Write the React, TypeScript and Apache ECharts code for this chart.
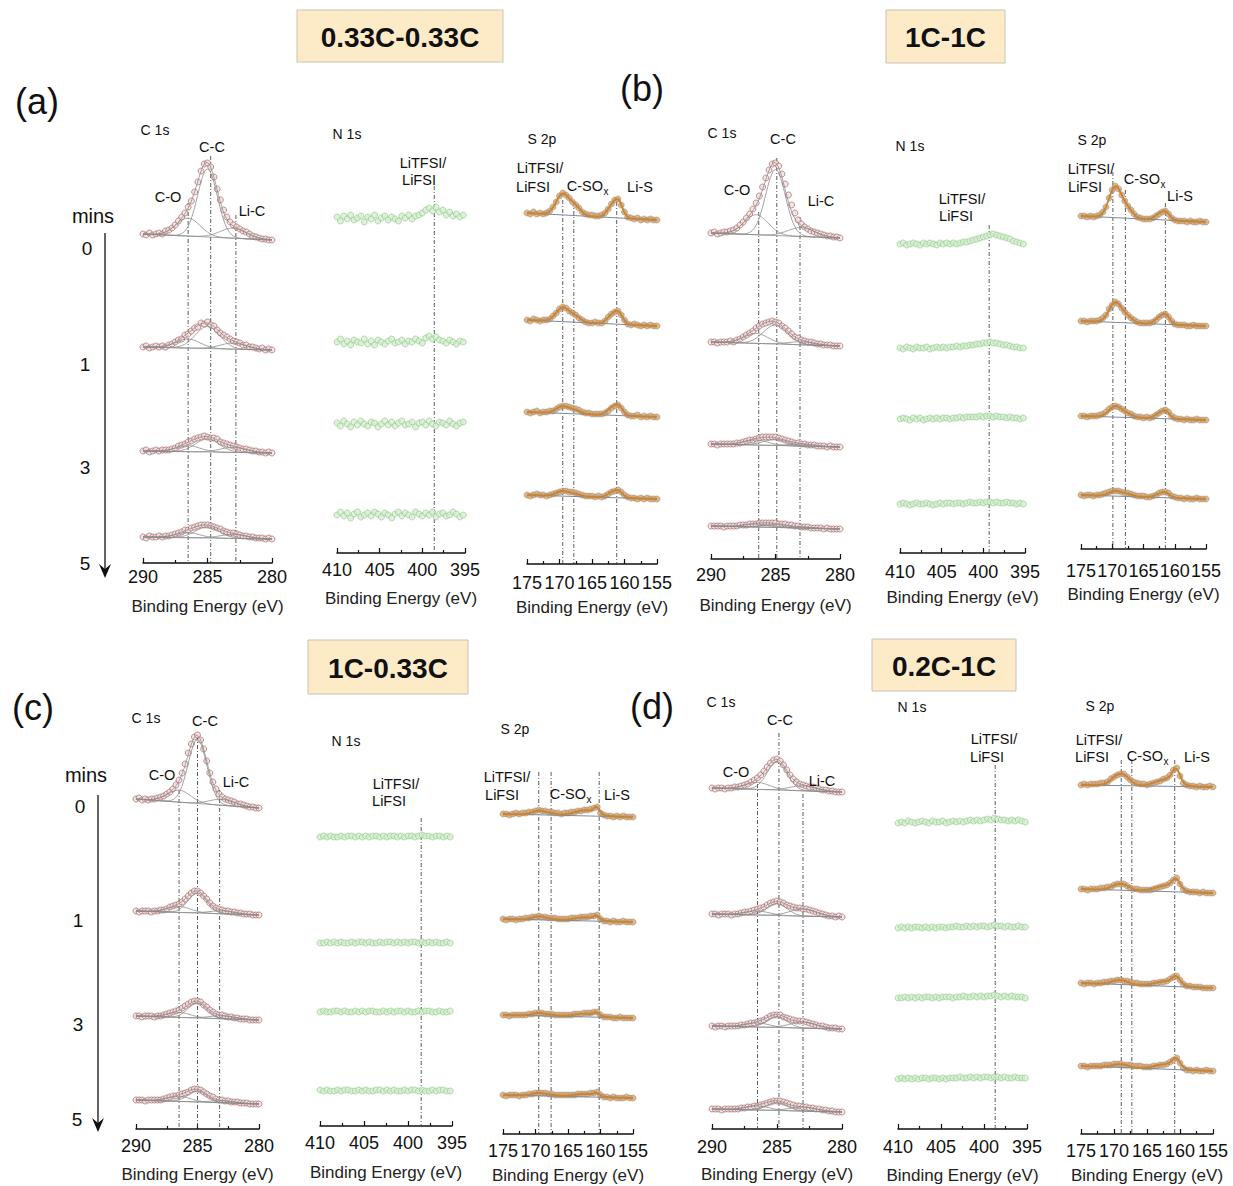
import React, { useEffect, useRef } from 'react';
import * as echarts from 'echarts';

const FONT = '"Liberation Sans", Arial, Helvetica, sans-serif';

// ---------- energy sampling of the three core levels (eV) ----------
const C1S_START = 290; const C1S_STEP = 0.25; const C1S_MIN = 280; const C1S_MAX = 290;
const N1S_START = 410; const N1S_STEP = 0.4; const N1S_MIN = 395; const N1S_MAX = 410;
const S2P_START = 175; const S2P_STEP = 0.5; const S2P_MIN = 155; const S2P_MAX = 175;

// ---------- C 1s spectra (rows: 0, 1, 3, 5 min), intensity a.u. ----------
const C1S_A = [
  [6,5,7,5,6,7,6,9,10,12,15,19,23,27,33,39,48,58,69,76,77,73,63,51,40,30,23,18,15,13,11,9,8,6,4,3,2,1,1,0,0],
  [3,4,2,3,4,3,4,3,5,6,8,10,11,15,16,19,22,23,27,26,28,25,24,20,17,15,13,11,9,8,7,5,5,3,3,2,1,2,0,1,0],
  [2,3,1,2,3,2,3,3,3,4,5,7,8,9,11,12,14,15,16,17,16,15,15,14,11,10,9,8,7,6,5,4,4,3,2,2,1,1,0,1,0],
  [2,1,3,2,2,3,2,3,3,4,5,6,7,9,9,11,12,13,14,14,14,13,12,11,10,8,7,6,6,5,4,3,3,2,2,1,1,1,0,1,0],
];
const C1S_B = [
  [5,6,4,5,6,6,7,8,10,13,16,20,24,29,35,42,51,60,68,74,75,72,64,54,43,33,25,18,14,11,9,7,6,5,4,3,2,2,1,1,0],
  [4,4,3,4,4,4,5,4,6,7,9,11,13,15,18,20,22,23,24,25,24,23,20,18,15,12,9,8,6,5,4,4,3,2,2,1,1,1,0,0,0],
  [3,3,2,3,3,3,3,3,4,4,5,6,7,7,8,9,10,10,10,10,10,9,8,7,6,5,4,4,3,3,2,2,2,1,1,1,0,1,0,0,0],
  [3,3,3,3,2,3,3,3,3,4,4,4,5,5,5,6,6,6,6,6,6,5,5,5,4,4,3,3,2,2,2,1,1,1,1,0,1,0,0,0,0],
];
const C1S_C = [
  [9,10,8,9,8,9,9,10,11,12,14,16,19,23,28,35,44,55,64,71,73,68,59,47,35,26,19,14,11,9,8,7,6,4,4,3,2,1,1,0,0],
  [4,3,4,4,4,3,4,4,5,5,6,8,9,10,11,13,16,19,22,24,24,22,19,16,12,9,7,6,5,4,4,3,3,2,2,1,1,1,0,0,0],
  [4,4,3,4,4,4,3,4,4,5,6,7,8,9,10,12,14,16,18,19,19,18,15,13,10,8,6,5,5,4,3,3,2,2,1,1,1,0,0,0,0],
  [4,4,4,3,4,4,4,4,4,5,6,7,8,8,9,10,11,12,14,15,15,14,12,10,8,7,5,4,4,3,3,2,2,2,1,1,1,0,0,0,0],
];
const C1S_D = [
  [4,3,4,4,3,4,4,5,5,6,7,8,10,12,14,17,21,25,29,32,33,31,27,22,17,13,10,8,7,6,5,5,4,3,2,2,1,1,0,0,0],
  [3,3,2,3,3,3,2,3,3,4,5,5,6,7,8,9,10,12,14,15,16,15,14,12,11,10,9,9,8,8,7,6,5,4,3,2,1,1,0,1,0],
  [3,2,3,3,2,3,3,3,3,4,4,5,6,6,7,8,9,11,13,14,14,14,12,11,10,9,8,8,8,7,6,5,4,3,3,2,1,1,1,0,0],
  [3,3,3,2,3,3,3,3,3,4,4,5,5,6,6,7,8,9,10,11,11,11,10,9,8,7,6,6,5,5,4,4,3,3,2,2,1,1,0,0,0],
];
// fitted components [centre eV, height, FWHM eV]: C-O, C-C, Li-C
const C1S_A_PEAKS = [
  [[286.5,18,2.2],[285.0,68,1.8],[283.0,10,2.4]],
  [[286.5,9,2.2],[285.0,22,2.2],[283.0,6,2.4]],
  [[286.5,6,2.2],[285.0,13,2.2],[283.0,5,2.4]],
  [[286.5,5,2.2],[285.0,11,2.2],[283.0,4,2.4]],
];
const C1S_B_PEAKS = [
  [[286.5,20,2.2],[285.0,66,1.8],[283.0,9,2.4]],
  [[286.5,10,2.2],[285.0,19,2.2],[283.0,3,2.4]],
  [[286.5,5,2.2],[285.0,6,2.2],[283.0,2,2.4]],
  [[286.5,3,2.2],[285.0,3,2.2],[283.0,1,2.4]],
];
const C1S_C_PEAKS = [
  [[286.5,12,2.2],[285.0,64,1.8],[283.0,6,2.4]],
  [[286.5,6,2.2],[285.0,20,1.8],[283.0,3,2.4]],
  [[286.5,5,2.2],[285.0,15,1.8],[283.0,3,2.4]],
  [[286.5,5,2.2],[285.0,11,1.8],[283.0,2,2.4]],
];
const C1S_D_PEAKS = [
  [[286.5,7,2.2],[285.0,28,1.8],[283.0,5,2.4]],
  [[286.5,4,2.2],[285.0,12,1.8],[283.0,7,2.4]],
  [[286.5,4,2.2],[285.0,11,1.8],[283.0,6,2.4]],
  [[286.5,4,2.2],[285.0,8,1.8],[283.0,4,2.4]],
];
// linear background [high-BE end, low-BE end]
const C1S_A_BASE = [[6,0],[3,0],[2,0],[2,0]];
const C1S_B_BASE = [[5,0],[4,0],[3,0],[3,0]];
const C1S_C_BASE = [[9,0],[4,0],[4,0],[4,0]];
const C1S_D_BASE = [[4,0],[3,0],[3,0],[3,0]];
const C1S_A_MARKS = [286.5, 284.75, 282.8];
const C1S_B_MARKS = [286.3, 284.9, 283.1];
const C1S_C_MARKS = [286.5, 285.0, 283.2];
const C1S_D_MARKS = [286.5, 284.85, 283.0];

// ---------- N 1s spectra ----------
const N1S_A = [
  [2,-2,3,0,4,-1,1,3,-3,2,0,4,-2,1,3,-1,2,0,-2,3,1,4,0,3,4,6,9,11,8,12,7,9,4,7,3,5,2,4],
  [0,3,-2,1,-3,2,0,-1,3,-2,1,-3,2,0,-2,1,3,-1,0,2,-2,1,0,3,1,-1,4,6,3,5,2,1,-1,2,0,-2,1,0],
  [1,-2,3,0,-3,2,-1,3,0,-2,2,1,-3,0,3,-1,2,-2,1,3,-1,0,2,-3,1,2,-1,3,0,-2,2,1,-1,3,0,-2,1,2],
  [0,3,-1,2,-3,1,3,-2,0,2,-1,3,1,-2,2,0,-3,1,3,-1,2,0,-2,3,1,-1,2,0,3,-2,1,2,-1,0,3,1,-2,0],
];
const N1S_B = [
  [0,1,-1,0,1,0,-1,1,0,1,0,-1,1,0,1,0,1,0,1,2,2,3,4,5,6,7,8,9,10,9,8,7,6,5,3,2,1,0],
  [0,-1,1,0,-1,1,0,0,1,-1,0,1,0,1,0,1,1,2,1,2,2,3,3,4,4,5,5,6,5,5,4,3,3,2,1,1,0,0],
  [0,1,0,-1,1,0,1,-1,0,1,0,1,0,1,1,0,1,1,2,1,2,2,2,2,3,2,3,3,2,3,2,2,1,2,1,1,0,1],
  [0,1,0,-1,0,1,0,0,1,0,-1,0,1,0,1,1,0,1,1,0,1,2,1,1,2,1,2,2,1,2,1,1,2,1,1,0,1,0],
];
const N1S_C = [
  [0,1,0,1,0,0,1,0,1,1,0,1,0,1,0,1,1,0,1,0,1,1,0,1,0,1,1,0,1,2,1,1,0,1,1,0,1,0],
  [0,0,1,0,1,0,1,0,0,1,0,1,1,0,1,0,0,1,0,1,1,0,1,0,1,0,1,1,0,1,0,1,0,1,0,0,1,0],
  [0,1,0,0,1,1,0,1,0,0,1,0,1,0,1,1,0,0,1,0,1,0,1,1,0,1,0,0,1,0,1,1,0,0,1,0,0,1],
  [1,0,1,0,0,1,0,1,1,0,0,1,0,1,0,0,1,1,0,1,0,1,0,0,1,0,1,1,0,1,0,0,1,0,1,1,0,0],
];
const N1S_D = [
  [0,1,0,2,1,0,1,2,1,0,2,1,1,2,0,1,2,1,2,1,2,3,2,3,2,3,4,3,5,4,3,3,2,3,2,3,2,1],
  [0,1,0,1,0,1,1,0,1,0,1,0,1,1,0,1,1,2,1,1,2,1,2,1,2,2,1,2,3,2,2,1,2,1,1,2,1,1],
  [0,0,1,0,1,0,1,0,1,1,0,1,0,1,1,1,0,1,1,2,1,1,2,1,2,1,2,2,3,2,1,2,1,2,1,1,1,0],
  [0,1,0,1,0,1,0,1,1,0,1,1,0,1,0,1,1,1,2,1,1,2,1,2,1,2,2,1,2,2,1,2,1,1,2,1,1,1],
];
const N1S_A_MARKS = [398.6];
const N1S_B_MARKS = [399.3];
const N1S_C_MARKS = [398.5];
const N1S_D_MARKS = [398.7];

// ---------- S 2p spectra ----------
const S2P_A = [
  [7,6,8,6,7,6,7,9,13,18,24,27,25,22,18,15,12,8,6,5,5,4,4,5,7,11,16,20,21,15,8,3,2,1,2,0,1,0,1,0,0],
  [6,5,7,6,5,6,6,7,10,13,17,19,18,15,13,11,8,6,4,3,3,4,3,3,5,9,12,14,15,11,6,2,1,2,1,0,1,0,1,0,0],
  [5,4,5,6,4,5,5,6,6,8,10,11,11,10,9,8,7,5,4,4,3,3,3,3,4,6,9,11,12,9,5,2,1,1,2,0,1,0,1,0,0],
  [4,3,4,5,4,4,3,4,5,6,7,8,8,7,7,6,5,4,3,3,3,2,3,2,3,5,7,8,9,7,4,2,1,1,0,1,0,1,0,0,0],
];
const S2P_B = [
  [6,6,5,6,5,6,7,10,15,24,32,36,33,27,21,16,12,8,5,4,3,3,3,4,6,8,10,11,8,4,2,1,1,1,0,1,0,0,1,0,0],
  [5,5,4,5,5,5,6,8,11,17,21,24,22,18,14,11,8,6,4,3,3,3,3,4,6,9,11,12,9,5,2,1,1,1,0,0,1,0,0,0,0],
  [4,4,3,4,4,4,5,6,8,11,13,14,13,11,9,7,6,4,3,3,2,3,2,3,5,7,9,10,8,4,2,1,1,0,1,0,0,1,0,0,0],
  [4,3,4,4,3,4,4,5,6,7,8,8,8,7,6,6,5,4,3,3,3,2,2,3,4,6,7,7,6,3,2,1,1,0,1,0,0,1,0,0,0],
];
const S2P_C = [
  [3,3,2,3,4,3,4,4,5,5,6,7,6,6,5,5,4,4,3,4,4,5,5,6,6,7,7,8,9,10,4,2,1,1,0,1,0,1,0,0,0],
  [3,2,3,3,2,3,3,4,4,5,5,6,5,5,4,4,4,3,3,3,3,4,4,4,5,5,5,6,6,7,3,1,1,0,1,0,0,1,0,0,0],
  [3,3,2,3,3,3,3,3,4,4,5,5,5,4,4,4,3,3,3,3,3,3,4,4,4,5,5,5,6,6,3,1,1,1,0,0,1,0,0,0,0],
  [3,2,3,3,3,2,3,3,4,4,5,5,5,5,4,4,3,3,3,3,3,3,3,4,4,4,4,5,5,6,3,1,1,0,1,0,0,0,1,0,0],
];
const S2P_D = [
  [2,3,2,3,3,3,4,4,5,8,10,12,13,13,10,7,5,4,3,3,2,3,4,5,6,8,9,12,17,19,11,4,2,1,1,0,1,0,0,1,0],
  [4,4,3,4,4,4,5,5,6,6,8,9,9,9,7,5,4,4,3,3,3,3,4,5,6,7,8,10,13,15,9,4,2,1,1,1,0,1,0,0,0],
  [5,4,5,5,4,5,5,6,6,7,7,8,8,7,7,6,5,5,4,4,4,4,5,5,6,6,7,9,11,12,8,4,2,2,1,1,1,0,0,0,0],
  [5,5,4,5,5,5,5,6,6,6,7,7,7,6,6,6,5,5,5,4,4,4,5,5,6,6,7,9,11,13,8,3,1,1,0,1,0,0,1,0,0],
];
const S2P_A_PEAKS = [
  [[169.5,21,2.4],[167.5,8,2.0],[162.2,8,1.6],[161.0,17,1.6]],
  [[169.5,14,2.4],[167.5,5,2.0],[162.2,6,1.6],[161.0,12,1.6]],
  [[169.5,7,2.4],[167.5,3,2.0],[162.2,5,1.6],[161.0,10,1.6]],
  [[169.5,5,2.4],[167.5,2,2.0],[162.2,3.5,1.6],[161.0,7,1.6]],
];
const S2P_B_PEAKS = [
  [[169.5,31,2.4],[167.5,8,2.0],[162.7,4,1.6],[161.5,8,1.6]],
  [[169.5,20,2.4],[167.5,5,2.0],[162.7,4.5,1.6],[161.5,9.5,1.6]],
  [[169.5,11,2.4],[167.5,3,2.0],[162.7,3.5,1.6],[161.5,7.5,1.6]],
  [[169.5,5,2.4],[167.5,2,2.0],[162.7,2.5,1.6],[161.5,5,1.6]],
];
const S2P_C_PEAKS = [
  [[169.5,4,2.4],[167.5,1.5,2.0],[162.3,5.5,4.0],[160.6,6,1.0]],
  [[169.5,3.5,2.4],[167.5,1,2.0],[162.3,3.5,4.0],[160.6,3.5,1.0]],
  [[169.5,2.8,2.4],[167.5,1,2.0],[162.3,3.2,4.0],[160.6,3,1.0]],
  [[169.5,2.8,2.4],[167.5,1,2.0],[162.3,3,4.0],[160.6,2.5,1.0]],
];
const S2P_D_PEAKS = [
  [[169.5,9,2.4],[168.2,6,2.0],[162.0,7,4.0],[160.6,13,1.4]],
  [[169.5,5,2.4],[168.2,3,2.0],[162.0,6,4.0],[160.6,9,1.4]],
  [[169.5,3.5,2.4],[168.2,2,2.0],[162.0,5,4.0],[160.6,7,1.4]],
  [[169.5,2.5,2.4],[168.2,1.5,2.0],[162.0,5,4.0],[160.6,8,1.4]],
];
const S2P_A_BASE = [[7,0],[6,0],[5,0],[4,0]];
const S2P_B_BASE = [[6,0],[5,0],[4,0],[4,0]];
const S2P_C_BASE = [[3,0],[3,0],[3,0],[3,0]];
const S2P_D_BASE = [[2,0],[4,0],[5,0],[5,0]];
const S2P_A_MARKS = [169.5, 167.8, 161.2];
const S2P_B_MARKS = [169.9, 167.9, 161.5];
const S2P_C_MARKS = [169.5, 167.6, 160.2];
const S2P_D_MARKS = [168.9, 167.3, 160.8];

// ---------- styles per core level ----------
const KIND: any = {
  C: { start: C1S_START, step: C1S_STEP, min: C1S_MIN, max: C1S_MAX, size: 6,
    item: { color: '#f1dede', borderColor: '#9c5656', borderWidth: 0.8 },
    fit: { color: '#8c8c8c', width: 0.8 }, base: { color: '#8c8c8c', width: 0.8 } },
  N: { start: N1S_START, step: N1S_STEP, min: N1S_MIN, max: N1S_MAX, size: 6,
    item: { color: '#d6efcf', borderColor: '#8dc389', borderWidth: 0.8 } },
  S: { start: S2P_START, step: S2P_STEP, min: S2P_MIN, max: S2P_MAX, size: 6,
    item: { color: '#dda463', borderColor: '#94877c', borderWidth: 0.7 },
    fit: { color: '#c4863f', width: 2 }, base: { color: '#7d8a98', width: 1 } },
};

// ---------- layout (pixels) ----------
const LAY: any = {
  aC: { x0: 143, x1: 272, axisY: 563, labelY: 577, nameY: 606, top: 110, rows: [240, 350, 453, 539], markTops: [203, 156, 215] },
  aN: { x0: 337, x1: 465, axisY: 553, labelY: 570, nameY: 598, top: 110, rows: [219, 342, 424, 515], markTops: [186] },
  aS: { x0: 527, x1: 657, axisY: 564, labelY: 583, nameY: 607, top: 110, rows: [220, 326, 417, 499], markTops: [200, 202, 202] },
  bC: { x0: 711, x1: 840, axisY: 559, labelY: 575, nameY: 605, top: 110, rows: [238, 346, 447, 529], markTops: [212, 158, 217] },
  bN: { x0: 900, x1: 1025, axisY: 553, labelY: 572, nameY: 597, top: 110, rows: [244, 348, 419, 504], markTops: [225] },
  bS: { x0: 1081, x1: 1206, axisY: 549, labelY: 571, nameY: 594, top: 110, rows: [222, 326, 420, 499], markTops: [172, 190, 203] },
  cC: { x0: 136, x1: 259, axisY: 1129, labelY: 1146, nameY: 1174, top: 690, rows: [808, 915, 1020, 1104], markTops: [790, 736, 790] },
  cN: { x0: 320, x1: 452, axisY: 1126, labelY: 1143, nameY: 1172, top: 690, rows: [837, 943, 1012, 1091], markTops: [818] },
  cS: { x0: 503, x1: 633, axisY: 1134, labelY: 1151, nameY: 1175, top: 690, rows: [817, 922, 1018, 1098], markTops: [772, 772, 772] },
  dC: { x0: 712, x1: 842, axisY: 1129, labelY: 1147, nameY: 1174, top: 690, rows: [792, 917, 1029, 1112], markTops: [784, 733, 794] },
  dN: { x0: 898, x1: 1027, axisY: 1129, labelY: 1147, nameY: 1175, top: 690, rows: [823, 928, 998, 1079], markTops: [765] },
  dS: { x0: 1081, x1: 1213, axisY: 1134, labelY: 1151, nameY: 1175, top: 690, rows: [787, 893, 988, 1071], markTops: [760, 760, 760] },
};

const SUBPLOTS = [
  { kind: 'C', data: C1S_A, peaks: C1S_A_PEAKS, base: C1S_A_BASE, marks: C1S_A_MARKS, lay: LAY.aC },
  { kind: 'N', data: N1S_A, marks: N1S_A_MARKS, lay: LAY.aN },
  { kind: 'S', data: S2P_A, peaks: S2P_A_PEAKS, base: S2P_A_BASE, marks: S2P_A_MARKS, lay: LAY.aS },
  { kind: 'C', data: C1S_B, peaks: C1S_B_PEAKS, base: C1S_B_BASE, marks: C1S_B_MARKS, lay: LAY.bC },
  { kind: 'N', data: N1S_B, marks: N1S_B_MARKS, lay: LAY.bN },
  { kind: 'S', data: S2P_B, peaks: S2P_B_PEAKS, base: S2P_B_BASE, marks: S2P_B_MARKS, lay: LAY.bS },
  { kind: 'C', data: C1S_C, peaks: C1S_C_PEAKS, base: C1S_C_BASE, marks: C1S_C_MARKS, lay: LAY.cC },
  { kind: 'N', data: N1S_C, marks: N1S_C_MARKS, lay: LAY.cN },
  { kind: 'S', data: S2P_C, peaks: S2P_C_PEAKS, base: S2P_C_BASE, marks: S2P_C_MARKS, lay: LAY.cS },
  { kind: 'C', data: C1S_D, peaks: C1S_D_PEAKS, base: C1S_D_BASE, marks: C1S_D_MARKS, lay: LAY.dC },
  { kind: 'N', data: N1S_D, marks: N1S_D_MARKS, lay: LAY.dN },
  { kind: 'S', data: S2P_D, peaks: S2P_D_PEAKS, base: S2P_D_BASE, marks: S2P_D_MARKS, lay: LAY.dS },
];

// ---------- texts ----------
const TAGS = [['(a)', 37, 101], ['(b)', 642, 88], ['(c)', 33, 707], ['(d)', 652, 706]];
const BOXES = [
  ['0.33C-0.33C', 297, 10, 206, 52],
  ['1C-1C', 886, 10, 119, 53],
  ['1C-0.33C', 308, 640, 160, 54],
  ['0.2C-1C', 872, 639, 144, 52],
];
const TIME_LABELS = ['0', '1', '3', '5'];
const TIME_AXES = [
  { x: 105, y0: 233, y1: 578, minsX: 93, minsY: 216, numX: [87, 85, 85, 85], numY: [248, 364, 467, 563] },
  { x: 98, y0: 795, y1: 1132, minsX: 86, minsY: 775, numX: [80, 78, 78, 77], numY: [806, 920, 1024, 1119] },
];
const LEVEL_TITLES = [
  ['C 1s', 155, 130], ['N 1s', 347, 134], ['S 2p', 542, 139],
  ['C 1s', 722, 133], ['N 1s', 910, 146], ['S 2p', 1092, 140],
  ['C 1s', 146, 718], ['N 1s', 346, 741], ['S 2p', 515, 729],
  ['C 1s', 721, 702], ['N 1s', 912, 707], ['S 2p', 1100, 706],
];
const PEAK_LABELS = [
  ['C-C', 212, 147], ['C-O', 168, 197], ['Li-C', 252, 211],
  ['LiTFSI/', 423, 163], ['LiFSI', 419, 180],
  ['LiTFSI/', 540, 168], ['LiFSI', 533, 187], ['Li-S', 640, 187],
  ['C-C', 783, 139], ['C-O', 737, 190], ['Li-C', 821, 201],
  ['LiTFSI/', 962, 199], ['LiFSI', 956, 216],
  ['LiTFSI/', 1091, 169], ['LiFSI', 1085, 187], ['Li-S', 1180, 196],
  ['C-C', 205, 721], ['C-O', 162, 775], ['Li-C', 236, 782],
  ['LiTFSI/', 396, 784], ['LiFSI', 389, 801],
  ['LiTFSI/', 507, 777], ['LiFSI', 502, 795], ['Li-S', 617, 795],
  ['C-C', 780, 720], ['C-O', 736, 772], ['Li-C', 822, 781],
  ['LiTFSI/', 994, 739], ['LiFSI', 987, 757],
  ['LiTFSI/', 1099, 740], ['LiFSI', 1092, 757], ['Li-S', 1197, 757],
];
const CSOX_LABELS = [[588, 186], [1145, 179], [571, 794], [1148, 756]];

function gauss(E: number, p: number[]) {
  const d = E - p[0];
  return p[1] * Math.exp((-4 * Math.LN2 * d * d) / (p[2] * p[2]));
}

function buildOption() {
  const grid: any[] = [];
  const xAxis: any[] = [];
  const yAxis: any[] = [];
  const series: any[] = [];

  SUBPLOTS.forEach((sp: any, gi: number) => {
    const L = sp.lay;
    const K = KIND[sp.kind];
    const H = L.axisY - L.top;
    grid.push({ left: L.x0, top: L.top, width: L.x1 - L.x0, height: H, containLabel: false, outerBoundsMode: 'none' });
    xAxis.push({
      gridIndex: gi, type: 'value', inverse: true, min: K.min, max: K.max, interval: 5,
      axisLine: { show: true, onZero: false, lineStyle: { color: '#111', width: 1.5 } },
      axisTick: { show: true, inside: true, length: 5, lineStyle: { color: '#111', width: 1.2 } },
      minorTick: { show: true, splitNumber: 2, length: 3, lineStyle: { color: '#111', width: 1.2 } },
      splitLine: { show: false }, minorSplitLine: { show: false },
      axisLabel: { show: true, margin: L.labelY - L.axisY - 9, fontSize: 18, color: '#111', fontFamily: FONT,
        hideOverlap: false, showMinLabel: true, showMaxLabel: true },
      name: 'Binding Energy (eV)', nameLocation: 'middle', nameGap: L.nameY - L.axisY - 8.5,
      nameTextStyle: { fontSize: 17, color: '#222', fontFamily: FONT },
    });
    yAxis.push({ gridIndex: gi, type: 'value', min: 0, max: H, show: false });

    const dense: number[] = [];
    for (let E = K.max; E >= K.min - 1e-9; E -= 0.1) dense.push(Math.round(E * 100) / 100);

    sp.data.forEach((vals: number[], r: number) => {
      const off = L.axisY - L.rows[r];
      series.push({
        type: 'scatter', xAxisIndex: gi, yAxisIndex: gi, silent: true, clip: false, z: 3,
        symbol: 'circle', symbolSize: K.size, itemStyle: K.item,
        data: vals.map((v: number, i: number) => [K.start - K.step * i, off + v]),
      });
      if (sp.peaks) {
        const pk = sp.peaks[r];
        const [bl, br] = sp.base[r];
        const baseAt = (E: number) => br + ((bl - br) * (E - K.min)) / (K.max - K.min);
        const lineS = (data: any[], st: any, z: number) => ({
          type: 'line', xAxisIndex: gi, yAxisIndex: gi, silent: true, clip: false, z,
          symbol: 'none', showSymbol: false, data, lineStyle: { color: st.color, width: st.width },
        });
        series.push(lineS([[K.max, off + bl], [K.min, off + br]], K.base, 4));
        if (sp.kind === 'C') {
          pk.forEach((p: number[]) => {
            series.push(lineS(dense.map((E) => [E, off + baseAt(E) + gauss(E, p)]), K.fit, 4));
          });
        }
        series.push(lineS(dense.map((E) => [E, off + baseAt(E) + pk.reduce((s: number, p: number[]) => s + gauss(E, p), 0)]), K.fit, 4));
      }
    });

    sp.marks.forEach((E: number, m: number) => {
      series.push({
        type: 'line', xAxisIndex: gi, yAxisIndex: gi, silent: true, clip: false, z: 2,
        symbol: 'none', showSymbol: false,
        data: [[E, L.axisY - L.markTops[m]], [E, 0]],
        lineStyle: { color: '#333', width: 0.8, type: [4, 2, 1, 2] },
      });
    });
  });

  const g: any[] = [];
  const txt = (text: string, x: number, y: number, size: number, weight = 'normal', align = 'center', color = '#111') => ({
    type: 'text', x, y, z: 100, silent: true,
    style: { text, fontSize: size, fontFamily: FONT, fontWeight: weight, fill: color,
      align, verticalAlign: 'middle', textAlign: align, textVerticalAlign: 'middle' },
  });
  BOXES.forEach((b: any) => {
    g.push({ type: 'rect', z: 99, silent: true, shape: { x: b[1], y: b[2], width: b[3], height: b[4] },
      style: { fill: '#fdebc8', stroke: '#c9c2b6', lineWidth: 1 } });
    g.push(txt(b[0], b[1] + b[3] / 2, b[2] + b[4] / 2 + 1, 28, 'bold'));
  });
  TAGS.forEach((t: any) => g.push(txt(t[0], t[1], t[2], 36)));
  TIME_AXES.forEach((a) => {
    g.push({ type: 'line', z: 100, silent: true, shape: { x1: a.x, y1: a.y0, x2: a.x, y2: a.y1 - 6 },
      style: { stroke: '#111', lineWidth: 1.3 } });
    g.push({ type: 'polygon', z: 100, silent: true,
      shape: { points: [[a.x - 6, a.y1 - 14], [a.x, a.y1 - 9], [a.x + 6, a.y1 - 14], [a.x, a.y1]] },
      style: { fill: '#111' } });
    g.push(txt('mins', a.minsX, a.minsY, 20));
    TIME_LABELS.forEach((s, i) => g.push(txt(s, a.numX[i], a.numY[i], 19)));
  });
  LEVEL_TITLES.forEach((t: any) => g.push(txt(t[0], t[1], t[2], 14)));
  PEAK_LABELS.forEach((t: any) => g.push(txt(t[0], t[1], t[2], 14.5)));
  CSOX_LABELS.forEach((c: any) => {
    g.push(txt('C-SO', c[0] + 15, c[1], 14.5, 'normal', 'right'));
    g.push(txt('x', c[0] + 15.5, c[1] + 5, 10, 'normal', 'left'));
  });

  return {
    animation: false,
    backgroundColor: '#ffffff',
    textStyle: { fontFamily: FONT },
    grid, xAxis, yAxis, series,
    graphic: { elements: g },
  };
}

export default function App() {
  const ref = useRef<HTMLDivElement>(null);
  useEffect(() => {
    const chart = echarts.init(ref.current as HTMLDivElement, null, { renderer: 'svg' });
    chart.setOption(buildOption() as any);
    return () => chart.dispose();
  }, []);
  return (
    <div
      ref={ref}
      style={{ position: 'absolute', left: 0, top: 0, width: 1233, height: 1186, background: '#fff' }}
    />
  );
}
